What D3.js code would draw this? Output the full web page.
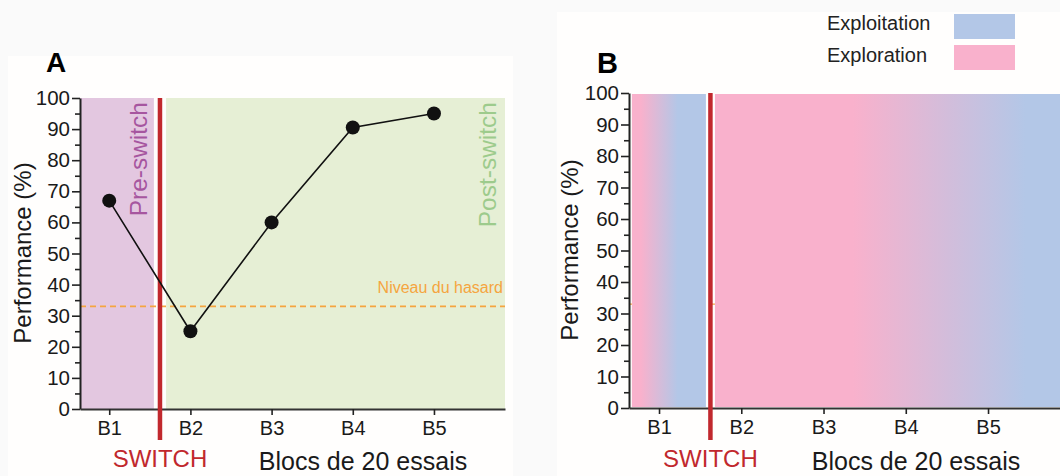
<!DOCTYPE html>
<html>
<head>
<meta charset="utf-8">
<script src="https://cdn.jsdelivr.net/npm/d3@7"></script>
<style>
  html, body { margin: 0; padding: 0; background: #fafafa; }
  svg { display: block; font-family: "Liberation Sans", Arial, sans-serif; }
</style>
</head>
<body>
<svg id="chart" width="1060" height="476"></svg>
<script>
// ---------- data ----------
const blocks = ["B1", "B2", "B3", "B4", "B5"];
const blockIndex = [1, 2, 3, 4, 5];
const performance = [67, 25, 60, 90.5, 95];
const chanceLevel = 33;
const yMajorTicks = [0, 10, 20, 30, 40, 50, 60, 70, 80, 90, 100];
const yMinorTicks = [5, 15, 25, 35, 45, 55, 65, 75, 85, 95];
const switchAt = 1.625;
const phaseA = [ {name: "pre", from: 0.64, to: 1.55}, {name: "post", from: 1.70, to: 5.875} ];
const phaseB = [ {from: 0.67, to: 1.57}, {from: 1.68, to: 5.875} ];
const legendLabels = ["Exploitation", "Exploration"];

const C = {
  pink: "#f9b1cc", blue: "#b3c7e7", purpleBg: "#e3c7e0", greenBg: "#e6efd5",
  red: "#c1282d", preText: "#a6569f", postText: "#9dcb8c", orange: "#f5a540", ink: "#1a1a1a"
};

const svg = d3.select("#chart");
const defs = svg.append("defs");

// panel backgrounds
svg.append("rect").attr("x", 8).attr("y", 56).attr("width", 505).attr("height", 420).attr("fill", "#fffefd");
svg.append("rect").attr("x", 557).attr("y", 12).attr("width", 503).attr("height", 464).attr("fill", "#fffefd");

function drawAxes(g, x, y, x0, x1, yTop, yBot) {
  // y major
  g.append("g").attr("transform", `translate(${x0},0)`)
    .call(d3.axisLeft(y).tickValues(yMajorTicks).tickSize(8).tickPadding(2).tickSizeOuter(0))
    .call(s => {
      s.select(".domain").attr("stroke", "#222").attr("stroke-width", 2);
      s.selectAll(".tick line").attr("stroke", "#222").attr("stroke-width", 1.6);
      s.selectAll("text").attr("font-size", 20.5).attr("fill", C.ink).attr("font-family", "Liberation Sans, Arial, sans-serif");
    });
  // y minor
  g.append("g").attr("transform", `translate(${x0},0)`)
    .call(d3.axisLeft(y).tickValues(yMinorTicks).tickSize(5).tickFormat("").tickSizeOuter(0))
    .call(s => {
      s.select(".domain").remove();
      s.selectAll(".tick line").attr("stroke", "#222").attr("stroke-width", 1.6);
    });
  // x axis
  g.append("g").attr("transform", `translate(0,${yBot})`)
    .call(d3.axisBottom(x).tickValues(blockIndex).tickFormat((d, i) => blocks[i]).tickSize(6).tickPadding(6).tickSizeOuter(0))
    .call(s => {
      s.select(".domain").attr("stroke", "#333").attr("stroke-width", 2.2);
      s.selectAll(".tick line").attr("stroke", "#222").attr("stroke-width", 1.6);
      s.selectAll("text").attr("font-size", 20).attr("fill", C.ink).attr("font-family", "Liberation Sans, Arial, sans-serif");
    });
}

// ================= Panel A =================
const xA = d3.scaleLinear().domain([0.64, 5.875]).range([80, 505]);
const yA = d3.scaleLinear().domain([0, 100]).range([409, 98]);
const gA = svg.append("g");

gA.append("rect").attr("x", xA(phaseA[0].from)).attr("y", yA(100))
  .attr("width", xA(phaseA[0].to) - xA(phaseA[0].from)).attr("height", yA(0) - yA(100)).attr("fill", C.purpleBg);
gA.append("rect").attr("x", xA(phaseA[1].from)).attr("y", yA(100))
  .attr("width", xA(phaseA[1].to) - xA(phaseA[1].from)).attr("height", yA(0) - yA(100)).attr("fill", C.greenBg);

// chance line
gA.append("line").attr("x1", xA(0.64)).attr("x2", xA(5.875)).attr("y1", yA(chanceLevel)).attr("y2", yA(chanceLevel))
  .attr("stroke", C.orange).attr("stroke-width", 1.6).attr("stroke-dasharray", "6,4");
gA.append("text").attr("x", 503).attr("y", 293).attr("text-anchor", "end").attr("font-size", 16)
  .attr("fill", C.orange).text("Niveau du hasard");

// phase labels
gA.append("text").attr("transform", `translate(147,102) rotate(-90)`).attr("text-anchor", "end")
  .attr("font-size", 24.5).attr("fill", C.preText).text("Pre-switch");
gA.append("text").attr("transform", `translate(496,102) rotate(-90)`).attr("text-anchor", "end")
  .attr("font-size", 24.5).attr("fill", C.postText).text("Post-switch");

drawAxes(gA, xA, yA, 80, 505, 98, 409);

// switch line
gA.append("line").attr("x1", xA(switchAt)).attr("x2", xA(switchAt)).attr("y1", yA(100)).attr("y2", 440)
  .attr("stroke", C.red).attr("stroke-width", 4.5);

// data line + points
const lineGen = d3.line().x((d, i) => xA(blockIndex[i])).y(d => yA(d));
gA.append("path").datum(performance).attr("d", lineGen).attr("fill", "none").attr("stroke", "#111").attr("stroke-width", 1.6);
gA.selectAll("circle").data(performance).join("circle")
  .attr("cx", (d, i) => xA(blockIndex[i])).attr("cy", d => yA(d)).attr("r", 7).attr("fill", "#111");

// texts
gA.append("text").attr("x", 46).attr("y", 72).attr("font-size", 28).attr("font-weight", "bold").attr("fill", "#000").text("A");
gA.append("text").attr("transform", "translate(31,253) rotate(-90)").attr("text-anchor", "middle")
  .attr("font-size", 24).attr("fill", C.ink).text("Performance (%)");
gA.append("text").attr("x", xA(switchAt)).attr("y", 467).attr("text-anchor", "middle")
  .attr("font-size", 24).attr("fill", C.red).text("SWITCH");
gA.append("text").attr("x", 363).attr("y", 470).attr("text-anchor", "middle")
  .attr("font-size", 25).attr("fill", C.ink).text("Blocs de 20 essais");

// ================= Panel B =================
const xB = d3.scaleLinear().domain([0.635, 5.875]).range([629, 1060]);
const yB = d3.scaleLinear().domain([0, 100]).range([408, 93]);
const gB = svg.append("g");

const g1 = defs.append("linearGradient").attr("id", "gradPre").attr("x1", "0%").attr("x2", "100%");
g1.append("stop").attr("offset", "12%").attr("stop-color", C.pink);
g1.append("stop").attr("offset", "62%").attr("stop-color", C.blue);
const g2 = defs.append("linearGradient").attr("id", "gradPost").attr("x1", "0%").attr("x2", "100%");
g2.append("stop").attr("offset", "40%").attr("stop-color", C.pink);
g2.append("stop").attr("offset", "90%").attr("stop-color", C.blue);

// hidden chance line (peeks through the gaps)
gB.append("line").attr("x1", xB(0.635)).attr("x2", xB(5.875)).attr("y1", yB(chanceLevel)).attr("y2", yB(chanceLevel))
  .attr("stroke", C.orange).attr("stroke-width", 1.2).attr("stroke-dasharray", "6,4");

gB.append("rect").attr("x", xB(phaseB[0].from)).attr("y", yB(100) + 1)
  .attr("width", xB(phaseB[0].to) - xB(phaseB[0].from)).attr("height", yB(0) - yB(100) - 2).attr("fill", "url(#gradPre)");
gB.append("rect").attr("x", xB(phaseB[1].from)).attr("y", yB(100) + 1)
  .attr("width", xB(phaseB[1].to) - xB(phaseB[1].from)).attr("height", yB(0) - yB(100) - 2).attr("fill", "url(#gradPost)");

drawAxes(gB, xB, yB, 629, 1060, 93, 408);

gB.append("line").attr("x1", xB(switchAt)).attr("x2", xB(switchAt)).attr("y1", yB(100)).attr("y2", 440)
  .attr("stroke", C.red).attr("stroke-width", 4.5);

gB.append("text").attr("x", 597).attr("y", 73).attr("font-size", 29).attr("font-weight", "bold").attr("fill", "#000").text("B");
gB.append("text").attr("transform", "translate(578,250) rotate(-90)").attr("text-anchor", "middle")
  .attr("font-size", 24).attr("fill", C.ink).text("Performance (%)");
gB.append("text").attr("x", xB(switchAt)).attr("y", 467).attr("text-anchor", "middle")
  .attr("font-size", 24).attr("fill", C.red).text("SWITCH");
gB.append("text").attr("x", 916).attr("y", 470).attr("text-anchor", "middle")
  .attr("font-size", 25).attr("fill", C.ink).text("Blocs de 20 essais");

// legend
const legendColors = [C.blue, C.pink];
const lg = gB.selectAll("g.leg").data(legendLabels).join("g").attr("class", "leg");
lg.append("text").attr("x", 827).attr("y", (d, i) => 30 + i * 32).attr("font-size", 20).attr("fill", "#222").text(d => d);
lg.append("rect").attr("x", 954).attr("y", (d, i) => 14 + i * 31).attr("width", 61).attr("height", 25)
  .attr("fill", (d, i) => legendColors[i]);
</script>
</body>
</html>
